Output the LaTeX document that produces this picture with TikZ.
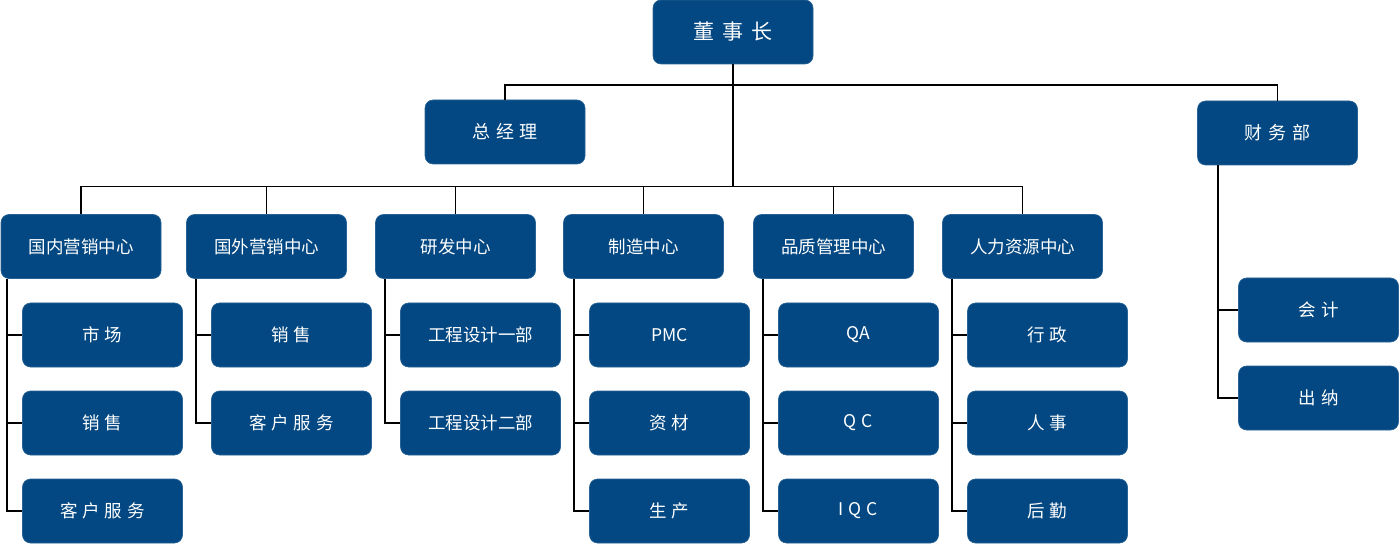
\documentclass[tikz,border=0pt]{standalone}
\usepackage{fontspec}
\setmainfont{Noto Sans CJK SC}
\definecolor{boxblue}{RGB}{3,72,130}
\newcommand{\gap}[1]{\hspace{#1pt}}
\begin{document}
\begin{tikzpicture}[x=1pt,y=-1pt,
  box/.style={draw=boxblue!85!white,line width=0.6pt,fill=boxblue,rounded corners=8pt,text=white,
    minimum width=160pt,minimum height=64pt,inner sep=0pt,font=\fontsize{17.5}{20}\selectfont},
  bigbox/.style={box,font=\fontsize{21}{24}\selectfont},
  midbox/.style={box,font=\fontsize{18}{21}\selectfont},
  link/.style={draw=black,line width=1.1pt}]
\useasboundingbox (0,0) rectangle (1400,545);
% top
\node[bigbox] (ceo) at (733,32) {董\gap{8}事\gap{8}长};
\node[midbox] (gm) at (505,132) {总\gap{6}经\gap{6}理};
\node[midbox] (fin) at (1277.5,133) {财\gap{6}务\gap{6}部};
\coordinate (j1) at (733,85);
\coordinate (j2) at (733,186.5);
% departments
\node[box] (d1) at (81,246.5) {国内营销中心};
\node[box] (d2) at (266.5,246.5) {国外营销中心};
\node[box] (d3) at (455.5,246.5) {研发中心};
\node[box] (d4) at (643.5,246.5) {制造中心};
\node[box] (d5) at (833.5,246.5) {品质管理中心};
\node[box] (d6) at (1022.5,246.5) {人力资源中心};
% children
\node[box] (a1) at (102.5,335) {市\gap{5}场};
\node[box] (a2) at (102.5,423) {销\gap{5}售};
\node[box] (a3) at (102.5,511) {客\gap{5}户\gap{5}服\gap{5}务};
\node[box] (b1) at (291.5,335) {销\gap{5}售};
\node[box] (b2) at (291.5,423) {客\gap{5}户\gap{5}服\gap{5}务};
\node[box] (c1) at (480.5,335) {工程设计一部};
\node[box] (c2) at (480.5,423) {工程设计二部};
\node[box] (e1) at (669.5,335) {PMC};
\node[box] (e2) at (669.5,423) {资\gap{5}材};
\node[box] (e3) at (669.5,511) {生\gap{5}产};
\node[box] (f1) at (858.5,335) {QA};
\node[box] (f2) at (858.5,423) {Q\gap{5}C};
\node[box] (f3) at (858.5,511) {I\gap{5}Q\gap{5}C};
\node[box] (g1) at (1047.5,335) {行\gap{5}政};
\node[box] (g2) at (1047.5,423) {人\gap{5}事};
\node[box] (g3) at (1047.5,511) {后\gap{5}勤};
\node[box] (h1) at (1318.5,310) {会\gap{5}计};
\node[box] (h2) at (1318.5,398) {出\gap{5}纳};
% branch coordinates
\coordinate (k1) at (7,0);
\coordinate (k2) at (196,0);
\coordinate (k3) at (385,0);
\coordinate (k4) at (574,0);
\coordinate (k5) at (763,0);
\coordinate (k6) at (952,0);
\coordinate (k7) at (1218,0);
% connectors
\begin{scope}[on background layer/.try]
\draw[link] (ceo.south) -- (j2);
\draw[link] (gm.north) |- (j1) -| (fin.north);
\draw[link] (d1.north) |- (j2) -| (d6.north);
\foreach \d in {d2,d3,d4,d5} \draw[link] (\d.north) -- (\d.north |- j2);
\draw[link] (d1.south -| k1) |- (a3.west);
\draw[link] (a1.west -| k1) -- (a1.west);
\draw[link] (a2.west -| k1) -- (a2.west);
\draw[link] (d2.south -| k2) |- (b2.west);
\draw[link] (b1.west -| k2) -- (b1.west);
\draw[link] (d3.south -| k3) |- (c2.west);
\draw[link] (c1.west -| k3) -- (c1.west);
\draw[link] (d4.south -| k4) |- (e3.west);
\draw[link] (e1.west -| k4) -- (e1.west);
\draw[link] (e2.west -| k4) -- (e2.west);
\draw[link] (d5.south -| k5) |- (f3.west);
\draw[link] (f1.west -| k5) -- (f1.west);
\draw[link] (f2.west -| k5) -- (f2.west);
\draw[link] (d6.south -| k6) |- (g3.west);
\draw[link] (g1.west -| k6) -- (g1.west);
\draw[link] (g2.west -| k6) -- (g2.west);
\draw[link] (fin.south -| k7) |- (h2.west);
\draw[link] (h1.west -| k7) -- (h1.west);
\end{scope}
\end{tikzpicture}
\end{document}
